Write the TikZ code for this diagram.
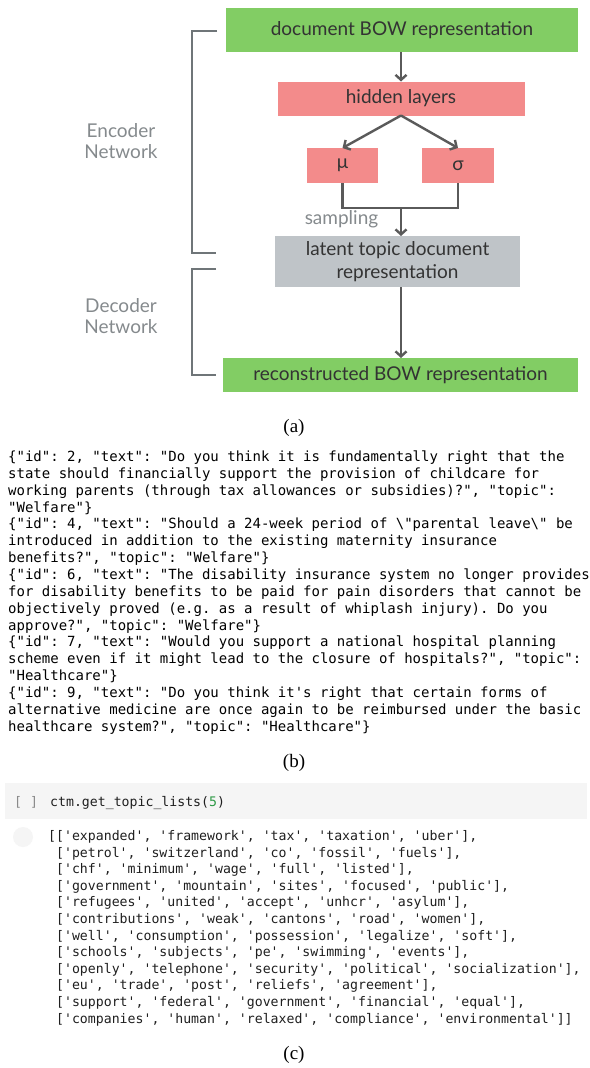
\documentclass[tikz,border=0pt]{standalone}
\usepackage{fontspec}
\setmainfont{Liberation Serif}
\newfontfamily\diagfont{Lato}
\newfontfamily\monofont{DejaVu Sans Mono}
\usetikzlibrary{arrows.meta}
\definecolor{bowgreen}{HTML}{82CD64}
\definecolor{hidred}{HTML}{F38B8B}
\definecolor{latgray}{HTML}{BFC4C8}
\definecolor{arrgray}{HTML}{5A5A5A}
\definecolor{brgray}{HTML}{6F7578}
\definecolor{lblgray}{HTML}{858A8D}
\definecolor{txtdark}{HTML}{333333}
\definecolor{cellgray}{HTML}{F5F5F5}
\definecolor{numgreen}{HTML}{2E9A46}
\definecolor{codegray}{HTML}{8A8A8A}
\newcommand\blineat[2]{\node[bline] (b#1) at (8,{461.5+(#1-1)*16.85}) {#2};}
\newcommand\clineat[2]{\node[cline] (c#1) at (48,{840.5+(#1-1)*16.6}) {#2};}
\begin{document}
\frenchspacing
\begin{tikzpicture}[x=1pt,y=-1pt,
  box/.style={inner sep=0pt,outer sep=0pt,align=center,text=txtdark,
    font=\diagfont\fontsize{19}{23}\selectfont},
  arr/.style={draw=arrgray,line width=2.4pt,-{Straight Barb[length=5pt,width=11pt]}},
  ln/.style={draw=arrgray,line width=2.4pt},
  br/.style={draw=brgray,line width=2.6pt},
  side/.style={align=center,text=lblgray,font=\diagfont\fontsize{19}{21.5}\selectfont},
  capt/.style={font=\fontsize{19}{22}\selectfont},
  bline/.style={anchor=base west,inner sep=0pt,font=\monofont\frenchspacing\fontsize{14}{16.85}\selectfont},
  cline/.style={anchor=base west,inner sep=0pt,text=black!88,font=\monofont\frenchspacing\fontsize{13.2}{16.6}\selectfont}]
\fill[white] (0,0) rectangle (589,1068);
\useasboundingbox (0,0) rectangle (589,1068);
% (a) diagram
\node[box,fill=bowgreen,minimum width=352pt,minimum height=44pt] (bow) at (402,30) {document BOW representation};
\node[box,fill=hidred,minimum width=247pt,minimum height=34pt] (hid) at (401,98.5) {hidden layers};
\node[box,fill=hidred,minimum width=71pt,minimum height=35pt] (mu) at (342.5,165.5) {μ};
\node[box,fill=hidred,minimum width=72pt,minimum height=35pt] (sig) at (458,165.5) {σ};
\node[box,fill=latgray,minimum width=245pt,minimum height=51pt] (lat) at (397.5,261.5) {latent topic document\\representation};
\node[box,fill=bowgreen,minimum width=355pt,minimum height=34pt] (rec) at (400.5,375) {reconstructed BOW representation};
\coordinate (m) at (401,208);
\draw[arr] (hid.north |- bow.south) -- (hid.north);
\draw[arr] (hid.south) -- (mu.north);
\draw[arr] (hid.south) -- (sig.north);
\draw[ln] (mu.south) -- (mu.south |- m) -- (sig.south |- m) -- (sig.south);
\draw[arr] (m) -- (lat.north -| m);
\draw[arr] (lat.south -| m) -- (rec.north -| m);
\node[side] (samp) at (341.5,219) {sampling};
\draw[br] (217,31) -- (192,31) -- (192,253) -- (216,253);
\draw[br] (216,269) -- (192,269) -- (192,375) -- (216,375);
\node[side] (enc) at (121,141) {Encoder\\Network};
\node[side] (dec) at (121,316) {Decoder\\Network};
\node[capt] (capa) at (294,428) {(a)};
% (b) text
\blineat{1}{\{"id": 2, "text": "Do you think it is fundamentally right that the}
\blineat{2}{state should financially support the provision of childcare for}
\blineat{3}{working parents (through tax allowances or subsidies)?", "topic":}
\blineat{4}{"Welfare"\}}
\blineat{5}{\{"id": 4, "text": "Should a 24-week period of \textbackslash"parental leave\textbackslash" be}
\blineat{6}{introduced in addition to the existing maternity insurance}
\blineat{7}{benefits?", "topic": "Welfare"\}}
\blineat{8}{\{"id": 6, "text": "The disability insurance system no longer provides}
\blineat{9}{for disability benefits to be paid for pain disorders that cannot be}
\blineat{10}{objectively proved (e.g. as a result of whiplash injury). Do you}
\blineat{11}{approve?", "topic": "Welfare"\}}
\blineat{12}{\{"id": 7, "text": "Would you support a national hospital planning}
\blineat{13}{scheme even if it might lead to the closure of hospitals?", "topic":}
\blineat{14}{"Healthcare"\}}
\blineat{15}{\{"id": 9, "text": "Do you think it's right that certain forms of}
\blineat{16}{alternative medicine are once again to be reimbursed under the basic}
\blineat{17}{healthcare system?", "topic": "Healthcare"\}}
\node[capt] (capb) at (294,763) {(b)};
% (c) code cell
\fill[cellgray] (5,783) rectangle (587,819);
\fill[black!4] (23,837) circle (10pt);
\node[cline,text=codegray] (brk) at (14,806) {[ ]};
\node[cline] (cmd) at (50,806) {ctm.get\_topic\_lists(\textcolor{numgreen}{5})};
\clineat{1}{[['expanded', 'framework', 'tax', 'taxation', 'uber'],}
\clineat{2}{\hphantom{[}['petrol', 'switzerland', 'co', 'fossil', 'fuels'],}
\clineat{3}{\hphantom{[}['chf', 'minimum', 'wage', 'full', 'listed'],}
\clineat{4}{\hphantom{[}['government', 'mountain', 'sites', 'focused', 'public'],}
\clineat{5}{\hphantom{[}['refugees', 'united', 'accept', 'unhcr', 'asylum'],}
\clineat{6}{\hphantom{[}['contributions', 'weak', 'cantons', 'road', 'women'],}
\clineat{7}{\hphantom{[}['well', 'consumption', 'possession', 'legalize', 'soft'],}
\clineat{8}{\hphantom{[}['schools', 'subjects', 'pe', 'swimming', 'events'],}
\clineat{9}{\hphantom{[}['openly', 'telephone', 'security', 'political', 'socialization'],}
\clineat{10}{\hphantom{[}['eu', 'trade', 'post', 'reliefs', 'agreement'],}
\clineat{11}{\hphantom{[}['support', 'federal', 'government', 'financial', 'equal'],}
\clineat{12}{\hphantom{[}['companies', 'human', 'relaxed', 'compliance', 'environmental']]}
\node[capt] (capc) at (294,1055) {(c)};
\end{tikzpicture}
\end{document}
